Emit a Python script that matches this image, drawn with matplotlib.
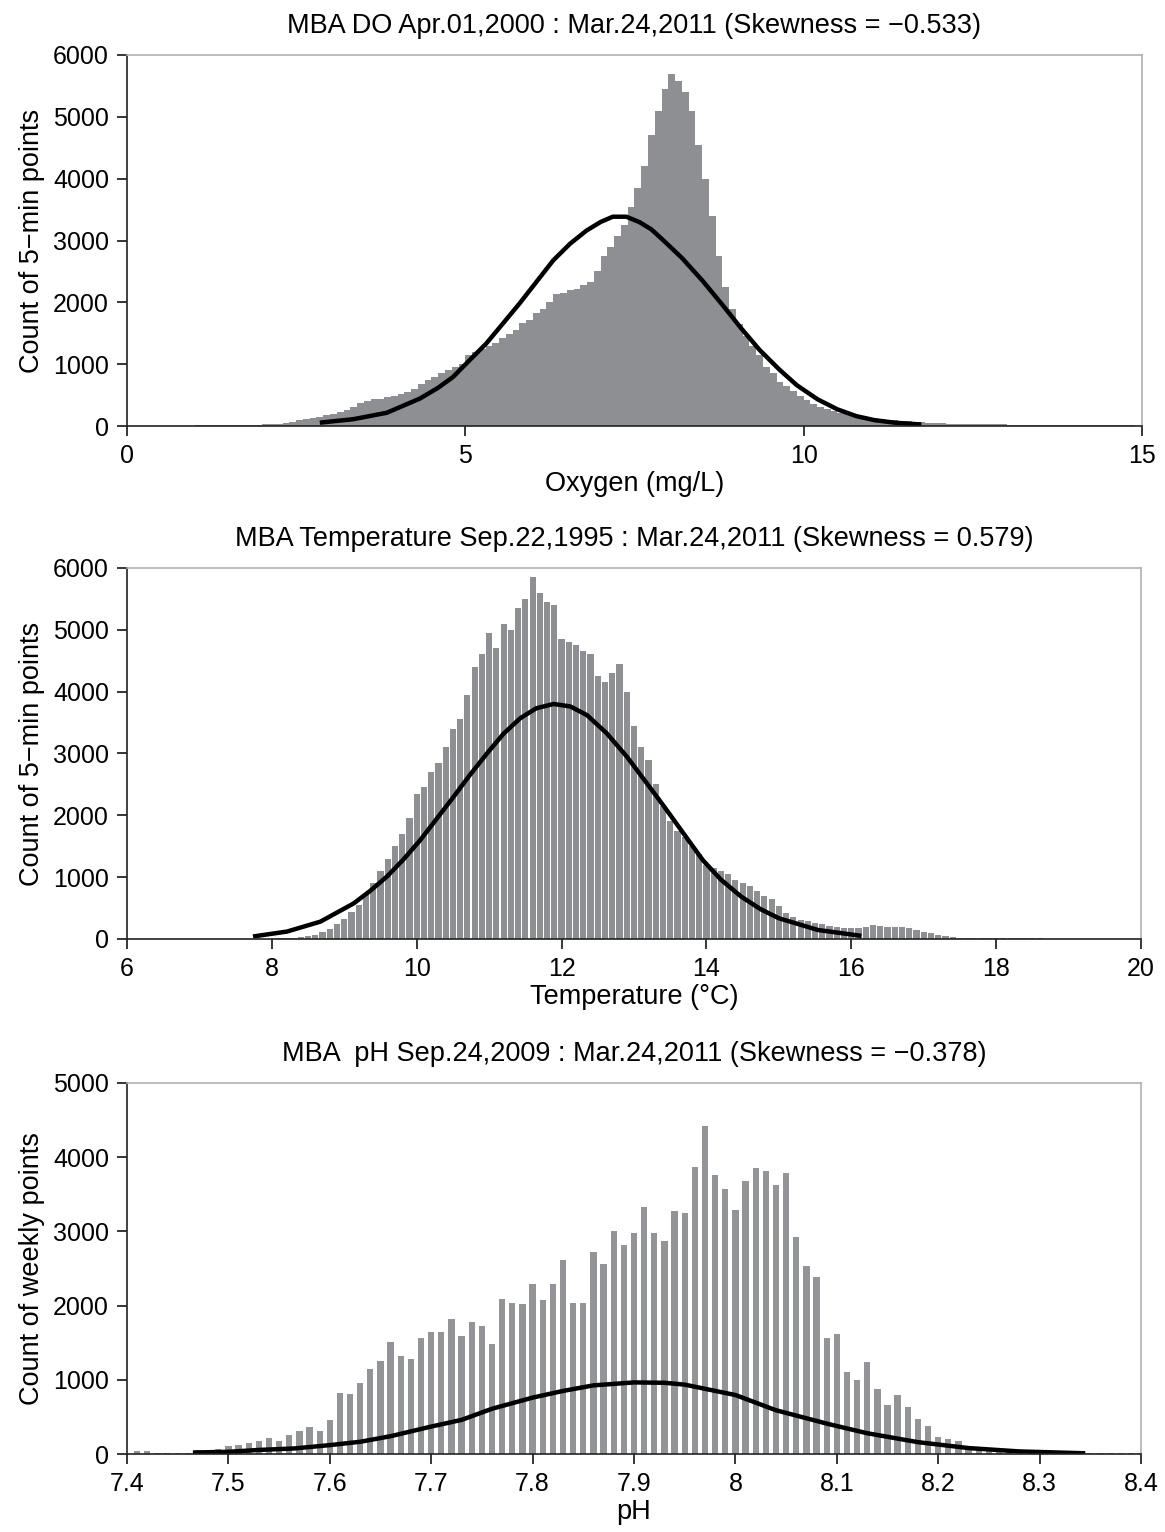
import numpy as np
import matplotlib
matplotlib.use("Agg")
import matplotlib.pyplot as plt
from matplotlib.ticker import FormatStrFormatter

plt.rcParams['font.family'] = ['Liberation Sans', 'DejaVu Sans']

# ---- dissolved oxygen, 0.1 mg/L bins from 1.0 ----
do_bins = np.round(np.arange(1.0, 14.85, 0.1), 2)
do_counts = [
    20, 25, 20, 25, 25, 20, 25, 25, 20, 25,
    30, 35, 40, 55, 70, 90, 110, 130, 150, 175,
    200, 230, 260, 300, 365, 400, 430, 445, 470, 485,
    520, 555, 600, 680, 740, 800, 860, 900, 960, 1000,
    1150, 1200, 1250, 1300, 1340, 1420, 1490, 1560, 1660, 1720,
    1820, 1900, 2000, 2140, 2150, 2200, 2220, 2280, 2330, 2500,
    2750, 2900, 3080, 3250, 3550, 3850, 4200, 4700, 5100, 5450,
    5700, 5580, 5400, 5100, 4550, 4000, 3400, 2750, 2250, 1900,
    1650, 1450, 1300, 1150, 950, 850, 720, 640, 560, 490,
    420, 360, 310, 280, 250, 215, 195, 175, 160, 145,
    130, 115, 105, 95, 85, 75, 65, 58, 52, 48,
    45, 40, 38, 35, 33, 32, 30, 30, 28, 27,
    25, 25, 22, 22, 20, 20, 18, 18, 16, 16,
    15, 15, 14, 14, 13, 13, 12, 12, 12,
]
do_fit_x = [2.85, 3.34, 3.84, 4.0, 4.33, 4.6, 4.82, 5.05, 5.31, 5.55, 5.80, 6.05, 6.30,
            6.55, 6.79, 7.0, 7.18, 7.38, 7.57, 7.75, 7.94, 8.2, 8.51, 8.8, 9.07, 9.35,
            9.64, 9.9, 10.21, 10.5, 10.78, 11.05, 11.34, 11.74]
do_fit_y = [55, 110, 215, 290, 445, 620, 795, 1050, 1335, 1650, 1980, 2330, 2680,
            2950, 3160, 3300, 3385, 3385, 3300, 3180, 2990, 2720, 2345, 1960, 1590, 1230,
            915, 660, 430, 270, 160, 95, 55, 25]

# ---- temperature, 0.1 degC bins from 8.0 ----
tmp_bins = np.round(np.arange(8.0, 18.65, 0.1), 2)
tmp_counts = [
    5, 8, 12, 20, 30, 45, 70, 110, 160, 240,
    330, 430, 550, 720, 900, 1100, 1300, 1500, 1700, 1950,
    2350, 2450, 2700, 2850, 3100, 3400, 3550, 3950, 4400, 4600,
    4950, 4700, 5100, 5000, 5350, 5500, 5850, 5600, 5450, 5400,
    4850, 4800, 4750, 4650, 4600, 4250, 4150, 4300, 4450, 4000,
    3450, 3100, 2900, 2500, 2150, 1900, 1750, 1650, 1500, 1380,
    1200, 1150, 1100, 1050, 950, 900, 850, 780, 700, 640,
    530, 420, 360, 310, 290, 260, 240, 215, 200, 185,
    170, 180, 200, 225, 210, 190, 200, 190, 170, 150,
    120, 90, 60, 40, 25, 20, 18, 15, 12, 10,
    10, 10, 8, 8, 8, 8, 8,
]
tmp_fit_x = [7.74, 8.21, 8.67, 9.13, 9.36, 9.59, 9.82, 10.05, 10.28, 10.51, 10.74, 10.97,
             11.2, 11.43, 11.65, 11.89, 12.12, 12.35, 12.62, 12.9, 13.15, 13.42, 13.7,
             13.95, 14.2, 14.48, 14.75, 15.0, 15.54, 16.14]
tmp_fit_y = [40, 120, 280, 575, 780, 1010, 1290, 1600, 1950, 2300, 2660, 3000,
             3320, 3570, 3730, 3800, 3760, 3620, 3330, 2950, 2560, 2135, 1680,
             1275, 960, 685, 480, 335, 145, 50]

# ---- pH, 0.01 bins from 7.41 ----
ph_bins = np.round(np.arange(7.41, 8.405, 0.01), 2)
ph_counts = [
    40, 40, 10, 10, 10, 10, 60, 60, 70, 110,
    125, 145, 180, 215, 180, 250, 305, 360, 305, 460,
    820, 805, 955, 1150, 1260, 1505, 1325, 1280, 1560, 1650,
    1650, 1820, 1595, 1785, 1720, 1485, 2090, 2035, 2020, 2295,
    2070, 2295, 2610, 2035, 2035, 2720, 2555, 3010, 2810, 2980,
    3325, 2980, 2865, 3270, 3250, 3865, 4415, 3765, 3565, 3290,
    3675, 3860, 3810, 3620, 3785, 2930, 2530, 2385, 1560, 1615,
    1100, 1000, 1245, 875, 660, 800, 630, 470, 380, 235,
    200, 180, 100, 60, 55, 45, 30, 25, 20, 15,
    15, 12, 12, 10, 10, 10, 10, 10, 10, 10,
]
ph_fit_x = [7.465, 7.50, 7.53, 7.565, 7.60, 7.63, 7.66, 7.70, 7.73, 7.76, 7.80, 7.83,
            7.86, 7.90, 7.93, 7.95, 8.00, 8.04, 8.09, 8.13, 8.18, 8.23, 8.28, 8.345]
ph_fit_y = [20, 30, 55, 75, 120, 165, 240, 370, 460, 610, 760, 850,
            925, 965, 960, 935, 795, 590, 410, 280, 160, 80, 35, 10]

BAR = '#8e8f93'
TICK_FS = 18
LABEL_FS = 19.5

fig = plt.figure(figsize=(11.65, 15.32), dpi=100)


def style_axes(ax, xlim, xticks, ylim, yticks, xlabel, ylabel, title):
    ax.set_xlim(*xlim)
    ax.set_ylim(*ylim)
    ax.set_xticks(xticks)
    ax.set_yticks(yticks)
    for side in ('top', 'right'):
        ax.spines[side].set_color('#b0b0b0')
        ax.spines[side].set_linewidth(1.2)
    for side in ('left', 'bottom'):
        ax.spines[side].set_color('#222222')
        ax.spines[side].set_linewidth(1.2)
    ax.tick_params(direction='out', length=7, width=1.1, labelsize=TICK_FS, pad=6)
    ax.set_xlabel(xlabel, fontsize=LABEL_FS, labelpad=2)
    ax.set_ylabel(ylabel, fontsize=LABEL_FS, labelpad=6)
    ax.set_title(title, fontsize=LABEL_FS, pad=16)


ax1 = fig.add_axes([0.109, 0.7219, 0.8712, 0.2422])
ax1.bar(do_bins + 0.05, do_counts, width=0.1, color=BAR, linewidth=0)
ax1.plot(do_fit_x, do_fit_y, color='black', lw=3.2, solid_capstyle='butt')
style_axes(ax1, (0, 15), [0, 5, 10, 15], (0, 6000), range(0, 6001, 1000),
           'Oxygen (mg/L)', 'Count of 5\u2212min points',
           'MBA DO Apr.01,2000 : Mar.24,2011 (Skewness = \u22120.533)')

ax2 = fig.add_axes([0.109, 0.3871, 0.8704, 0.2422])
ax2.bar(tmp_bins, tmp_counts, width=0.085, color=BAR, linewidth=0)
ax2.plot(tmp_fit_x, tmp_fit_y, color='black', lw=3.2, solid_capstyle='butt')
style_axes(ax2, (6, 20), range(6, 21, 2), (0, 6000), range(0, 6001, 1000),
           'Temperature (\u00b0C)', 'Count of 5\u2212min points',
           'MBA Temperature Sep.22,1995 : Mar.24,2011 (Skewness = 0.579)')

ax3 = fig.add_axes([0.109, 0.0509, 0.8704, 0.2422])
ax3.bar(ph_bins, ph_counts, width=0.0062, color='#939497', linewidth=0)
ax3.plot(ph_fit_x, ph_fit_y, color='black', lw=3.2, solid_capstyle='butt')
style_axes(ax3, (7.4, 8.4), np.round(np.arange(7.4, 8.41, 0.1), 1), (0, 5000),
           range(0, 5001, 1000), 'pH', 'Count of weekly points',
           'MBA  pH Sep.24,2009 : Mar.24,2011 (Skewness = \u22120.378)')
ax3.xaxis.set_major_formatter(FormatStrFormatter('%g'))

fig.savefig('out.png', dpi=100)
